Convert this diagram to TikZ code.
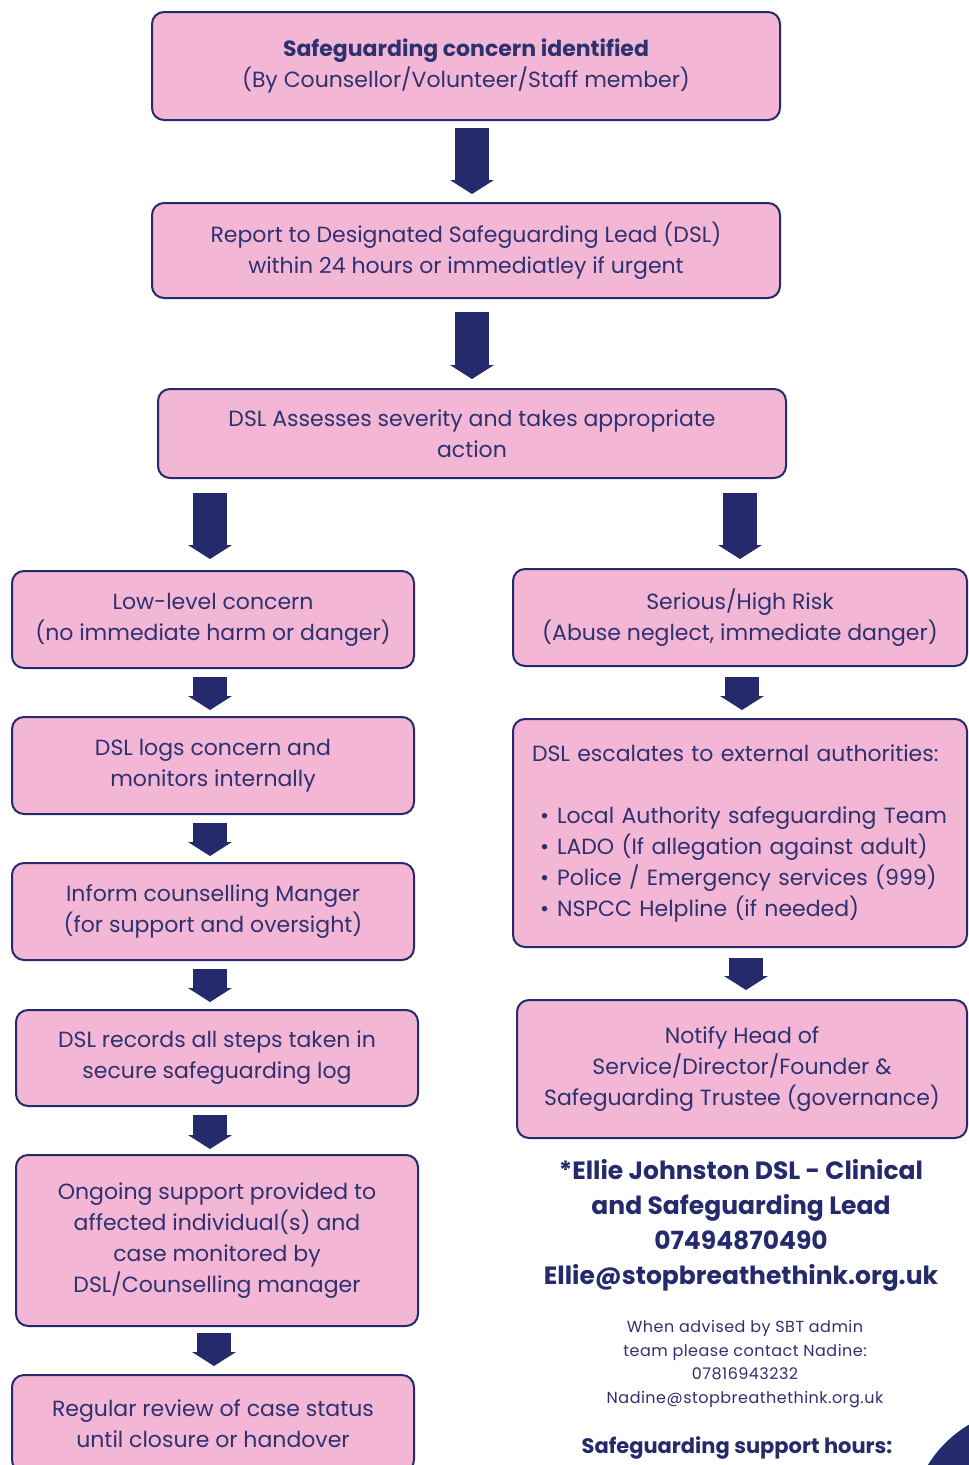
\documentclass[tikz,border=0pt]{standalone}
\usepackage{fontspec}
\setmainfont{Poppins}
\usetikzlibrary{arrows.meta,calc}
\definecolor{navy}{HTML}{242A6B}
\definecolor{txtnavy}{HTML}{2E3170}
\definecolor{pinkfill}{HTML}{F4B6D5}
\tikzset{
  box/.style={draw=navy, line width=2pt, fill=pinkfill, rounded corners=12pt,
    align=center, text=txtnavy, inner sep=0pt,
    font=\fontsize{22}{31}\selectfont},
  barrow/.style={draw=navy, line width=34pt,
    -{Triangle[width=44pt,length=14pt,line width=0pt]}},
  contact/.style={align=center, text=navy, inner sep=0pt}
}
\begin{document}
\begin{tikzpicture}[x=1pt,y=-1pt]
\useasboundingbox (0,0) rectangle (969,1465);
\clip (0,0) rectangle (969,1465);
\fill[white] (0,0) rectangle (969,1465);

\node[box, minimum width=628pt, minimum height=108pt] (b1) at (466,66)
  {{\bfseries Safeguarding concern identified}\\(By Counsellor/Volunteer/Staff member)};
\node[box, minimum width=628pt, minimum height=95pt] (b2) at (466,250.5)
  {Report to Designated Safeguarding Lead (DSL)\\within 24 hours or immediatley if urgent};
\node[box, minimum width=628pt, minimum height=89pt] (b3) at (472,433.5)
  {DSL Assesses severity and takes appropriate\\action};

\node[box, minimum width=402pt, minimum height=97pt] (l1) at (213,619.5)
  {Low-level concern\\(no immediate harm or danger)};
\node[box, minimum width=402pt, minimum height=97pt] (l2) at (213,765.5)
  {DSL logs concern and\\monitors internally};
\node[box, minimum width=402pt, minimum height=97pt] (l3) at (213,911.5)
  {Inform counselling Manger\\(for support and oversight)};
\node[box, minimum width=402pt, minimum height=96pt] (l4) at (217,1058)
  {DSL records all steps taken in\\secure safeguarding log};
\node[box, minimum width=402pt, minimum height=171pt] (l5) at (217,1240.5)
  {Ongoing support provided to\\affected individual(s) and\\case monitored by\\DSL/Counselling manager};
\node[box, minimum width=402pt, minimum height=97pt] (l6) at (213,1423.5)
  {Regular review of case status\\until closure or handover};

\node[box, minimum width=454pt, minimum height=97pt] (r1) at (740,617.5)
  {Serious/High Risk\\(Abuse neglect, immediate danger)};
\node[box, minimum width=454pt, minimum height=228pt, align=left, text width=416pt] (r2) at (740,833)
  {DSL escalates to external authorities:\\[31pt]
   \hspace*{8pt}\textbullet\hspace{8pt}Local Authority safeguarding Team\\
   \hspace*{8pt}\textbullet\hspace{8pt}LADO (If allegation against adult)\\
   \hspace*{8pt}\textbullet\hspace{8pt}Police / Emergency services (999)\\
   \hspace*{8pt}\textbullet\hspace{8pt}NSPCC Helpline (if needed)};
\node[box, minimum width=450pt, minimum height=138pt] (r3) at (742,1069)
  {Notify Head of\\Service/Director/Founder \&\\Safeguarding Trustee (governance)};

\node[contact, font=\fontsize{25}{35}\selectfont\bfseries] (c1) at (741,1225.5)
  {*Ellie Johnston DSL - Clinical\\and Safeguarding Lead\\07494870490\\Ellie@stopbreathethink.org.uk};
\node[contact, text=txtnavy, font=\fontsize{16}{23.7}\selectfont\addfontfeature{LetterSpace=3}] (c2) at (745,1364)
  {When advised by SBT admin\\team please contact Nadine:\\07816943232\\Nadine@stopbreathethink.org.uk};
\node[contact, font=\fontsize{21}{24}\selectfont\bfseries] (c3) at (737,1448)
  {Safeguarding support hours:};

\fill[navy] (1030,1528) circle (120);

\draw[barrow] ($(b1.south)+(6,7)$) -- ($(b2.north)+(6,-8)$);
\draw[barrow] ($(b2.south)+(6,13)$) -- ($(b3.north)+(0,-9)$);
\draw[barrow] ($(b3.south -| l1.north)+(-3,14)$) -- ($(l1.north)+(-3,-11)$);
\draw[barrow] ($(b3.south -| r1.north)+(0,14)$) -- ($(r1.north)+(0,-9)$);
\draw[barrow] ($(l1.south)+(-3,8)$) -- ($(l2.north)+(-3,-6)$);
\draw[barrow] ($(l2.south)+(-3,8)$) -- ($(l3.north)+(-3,-6)$);
\draw[barrow] ($(l3.south)+(-3,8)$) -- ($(l4.north)+(-7,-7)$);
\draw[barrow] ($(l4.south)+(-7,8)$) -- ($(l5.north)+(-7,-5)$);
\draw[barrow] ($(l5.south)+(-3,6)$) -- ($(l6.north)+(1,-8)$);
\draw[barrow] ($(r1.south)+(2,10)$) -- ($(r2.north)+(2,-8)$);
\draw[barrow] ($(r2.south)+(6,10)$) -- ($(r3.north)+(4,-9)$);
\end{tikzpicture}
\end{document}
